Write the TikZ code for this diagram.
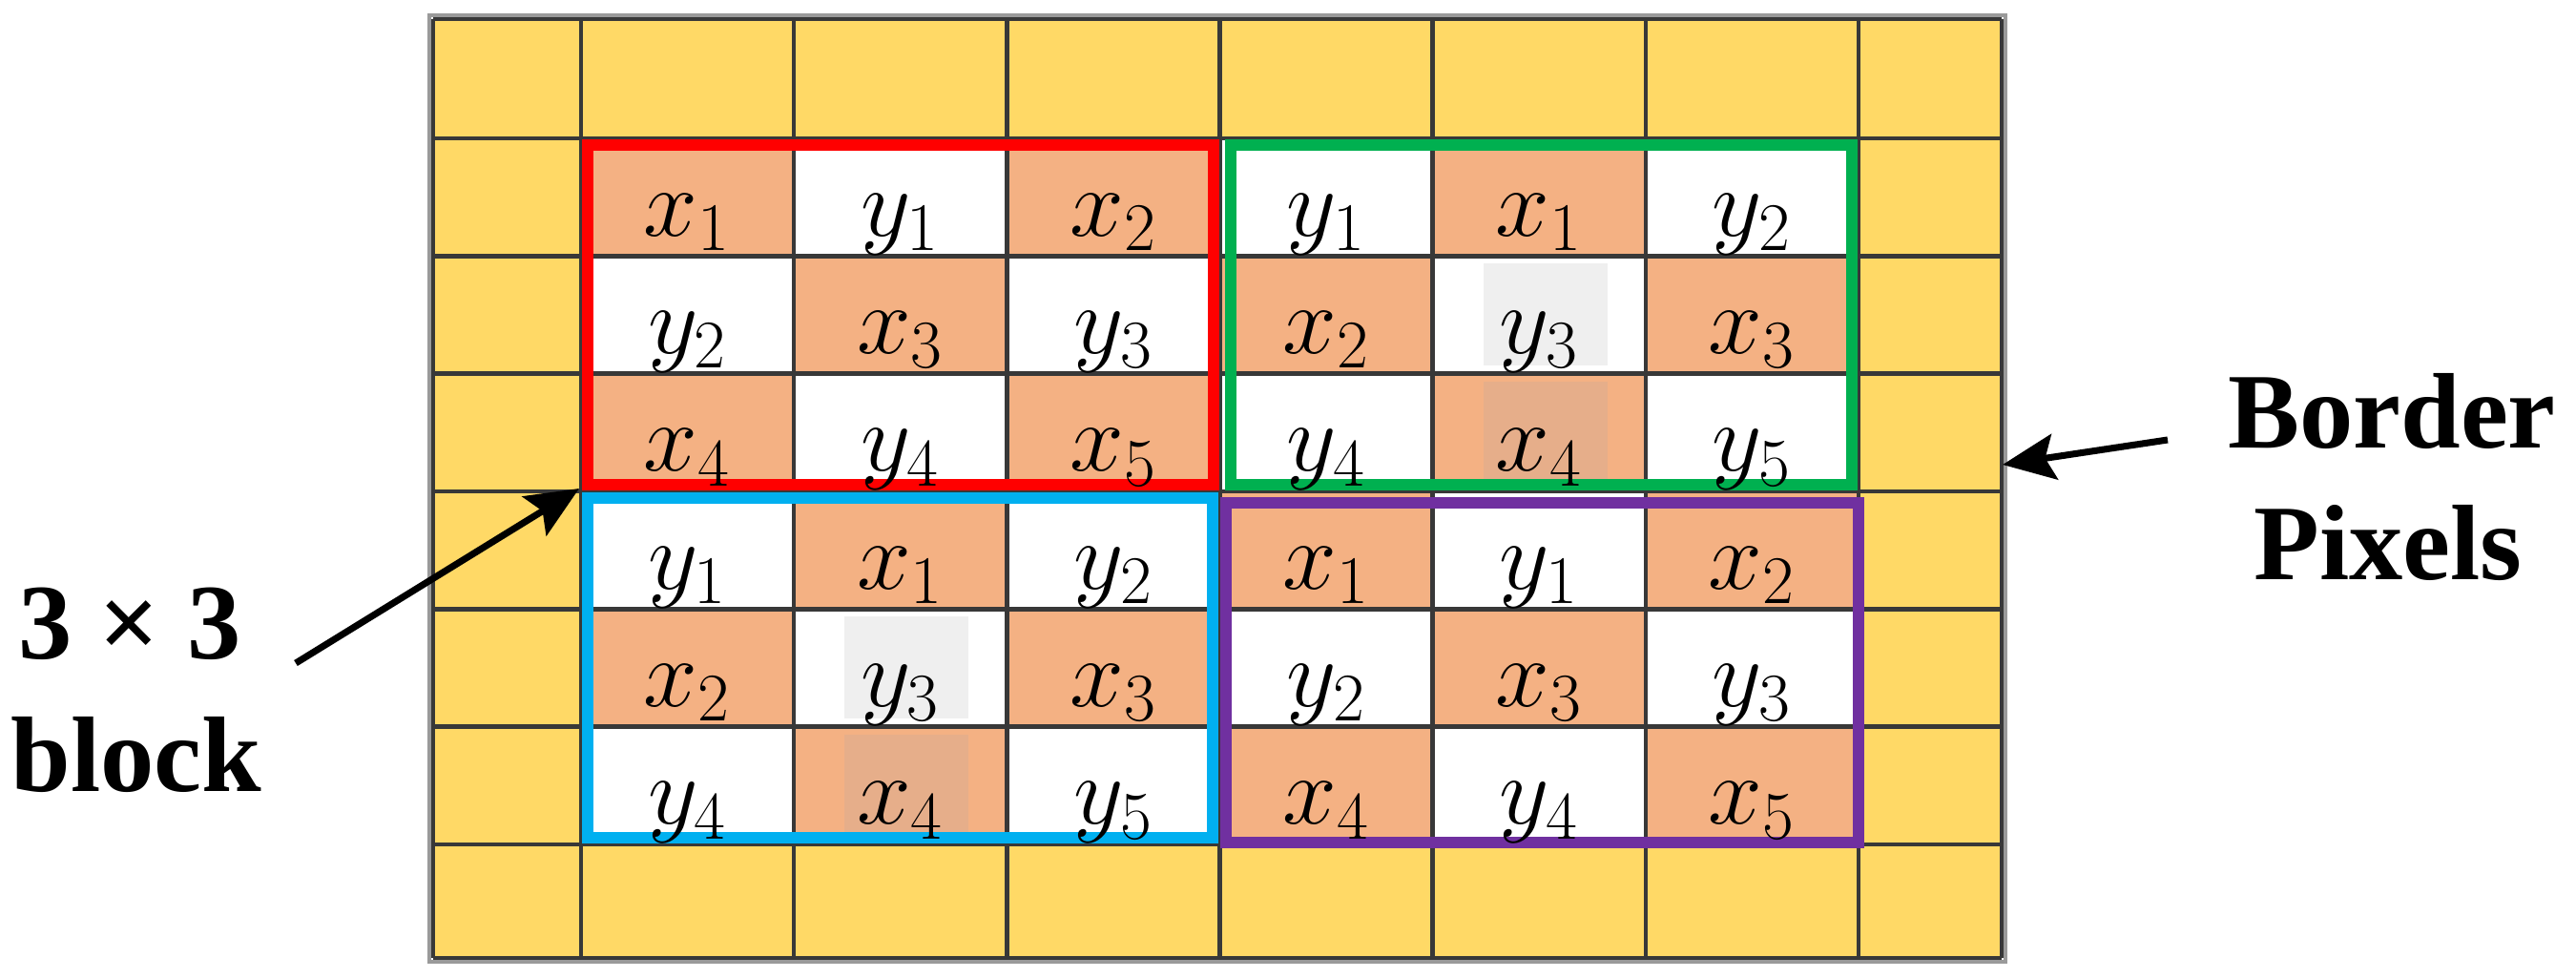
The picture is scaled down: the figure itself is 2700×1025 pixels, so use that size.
\RequirePackage{fix-cm}
\documentclass[tikz,border=0pt]{standalone}
\usepackage{fontspec}
\setmainfont{Liberation Serif}
\usetikzlibrary{arrows.meta}
\definecolor{gold}{HTML}{FFD966}
\definecolor{salmon}{HTML}{F4B183}
\definecolor{salmondk}{HTML}{E6AE8A}
\definecolor{patchgray}{HTML}{EFEFEF}
\definecolor{blkred}{HTML}{FF0000}
\definecolor{blkgreen}{HTML}{00B050}
\definecolor{blkblue}{HTML}{00B0F0}
\definecolor{blkpurple}{HTML}{7030A0}
\definecolor{gridgray}{HTML}{9A9A9A}
\tikzset{
  gridline/.style={draw=black!78, line width=1.3pt},
  lab/.style={anchor=base, inner sep=0pt, font=\fontsize{29}{34}\selectfont},
  lbl/.style={anchor=base, inner sep=0pt, font=\bfseries\fontsize{32}{38}\selectfont},
  blockrect/.style={line width=3.6pt},
  arr/.style={line width=2pt, -{Stealth[length=0.55cm,width=0.48cm,inset=0.1cm]}},
}
\begin{document}
\begin{tikzpicture}[x=0.01cm,y=-0.01cm]
\useasboundingbox (0,0) rectangle (2700,1025);
% border pixels
\fill[gold] (454,20) rectangle (2098,1004);
% inner cells
\foreach \c/\r/\col in {
  1/1/salmon, 2/1/white, 3/1/salmon,
  1/2/white, 2/2/salmon, 3/2/white,
  1/3/salmon, 2/3/white, 3/3/salmon,
  4/1/white, 5/1/salmon, 6/1/white,
  4/2/salmon, 5/2/white, 6/2/salmon,
  4/3/white, 5/3/salmon, 6/3/white,
  1/4/white, 2/4/salmon, 3/4/white,
  1/5/salmon, 2/5/white, 3/5/salmon,
  1/6/white, 2/6/salmon, 3/6/white,
  4/4/salmon, 5/4/white, 6/4/salmon,
  4/5/white, 5/5/salmon, 6/5/white,
  4/6/salmon, 5/6/white, 6/6/salmon}{
  \pgfmathsetmacro\xl{609+(\c-1)*223.17}
  \pgfmathsetmacro\yt{145+(\r-1)*123.33}
  \fill[fill=\col] (\xl,\yt) rectangle (\xl+223.17,\yt+123.33);
}
% faint patches
\foreach \c/\r/\col in {5/2/patchgray, 2/5/patchgray, 5/3/salmondk, 2/6/salmondk}{
  \pgfmathsetmacro\xl{609+(\c-1)*223.17}
  \pgfmathsetmacro\yt{145+(\r-1)*123.33}
  \fill[fill=\col] (\xl+53,\yt+8) rectangle (\xl+183,\yt+115);
}
% grid lines
\draw[gridgray, line width=1.2pt] (450,16) rectangle (2102,1008);
\foreach \x in {454,609,832.17,1055.33,1278.5,1501.67,1724.83,1948,2098}
  \draw[gridline] (\x,20) -- (\x,1004);
\foreach \y in {20,145,268.33,391.67,515,638.33,761.67,885,1004}
  \draw[gridline] (454,\y) -- (2098,\y);
% 3x3 block outlines
\draw[blockrect, blkred]    (616,152) rectangle (1272,508);
\draw[blockrect, blkgreen]  (1290,152) rectangle (1941,508);
\draw[blockrect, blkblue]   (616,522) rectangle (1271,878);
\draw[blockrect, blkpurple] (1285,527) rectangle (1948,883);
% cell labels
\foreach \c/\r/\s in {
  1/1/x_1, 2/1/y_1, 3/1/x_2, 1/2/y_2, 2/2/x_3, 3/2/y_3, 1/3/x_4, 2/3/y_4, 3/3/x_5,
  4/1/y_1, 5/1/x_1, 6/1/y_2, 4/2/x_2, 5/2/y_3, 6/2/x_3, 4/3/y_4, 5/3/x_4, 6/3/y_5,
  1/4/y_1, 2/4/x_1, 3/4/y_2, 1/5/x_2, 2/5/y_3, 3/5/x_3, 1/6/y_4, 2/6/x_4, 3/6/y_5,
  4/4/x_1, 5/4/y_1, 6/4/x_2, 4/5/y_2, 5/5/x_3, 6/5/y_3, 4/6/x_4, 5/6/y_4, 6/6/x_5}{
  \pgfmathsetmacro\xc{609+(\c-0.5)*223.17}
  \pgfmathsetmacro\yb{145+\r*123.33-21}
  \node[lab] (L-\c-\r) at (\xc,\yb) {$\s$};
}
% annotations
\node[lbl] (blk1) at (136,690) {3 × 3};
\node[lbl] (blk2) at (143,830) {block};
\node[lbl] (brd1) at (2507,470) {Border};
\node[lbl] (brd2) at (2503,608) {Pixels};
\coordinate (blkTail) at (310,695);
\coordinate (blkTip) at (607,512);
\coordinate (brdTail) at (2272,461);
\coordinate (brdTip) at (2099,487);
\draw[arr] (blkTail) -- (blkTip);
\draw[arr] (brdTail) -- (brdTip);
\end{tikzpicture}
\end{document}
